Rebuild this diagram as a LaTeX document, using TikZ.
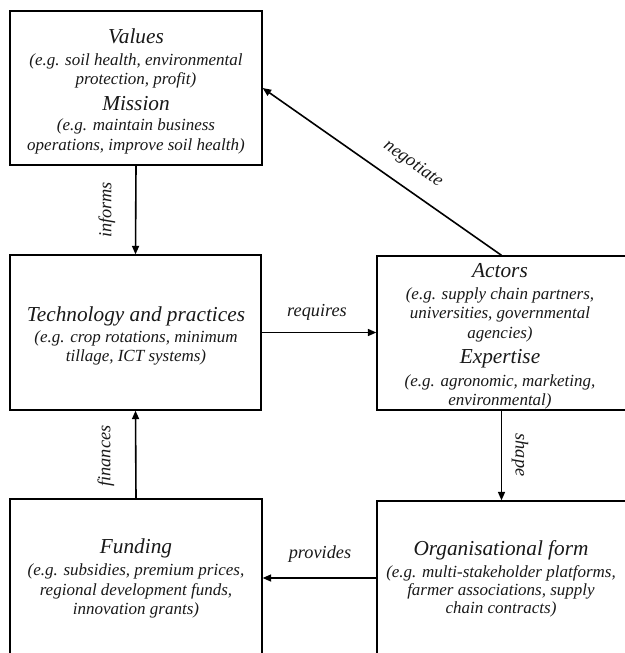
\documentclass[tikz,border=0pt]{standalone}
\usepackage{fontspec}
\setmainfont{Liberation Serif}
\usetikzlibrary{arrows.meta}
\begin{document}
\begin{tikzpicture}[x=1pt,y=-1pt,
  box/.style={draw=black, line width=1.3pt, inner sep=0pt, rectangle},
  ttl/.style={anchor=base, inner sep=0pt, font=\fontsize{21.3}{24}\selectfont\itshape, text=black!90},
  bod/.style={anchor=base, inner sep=0pt, font=\fontsize{17}{20}\selectfont\itshape, text=black!90},
  lbl/.style={inner sep=0pt, font=\fontsize{18.3}{21}\selectfont\itshape, text=black!90},
  arr/.style={line width=1.6pt, -{Triangle[length=8.5pt,width=7pt]}}]
\useasboundingbox (0,0) rectangle (624,653);
\fill[white] (0,0) rectangle (624,653);
% boxes
\node[box, minimum width=252pt, minimum height=154pt] (values) at (136,88) {};
\node[box, minimum width=251pt, minimum height=155pt] (tech) at (135.5,332.5) {};
\node[box, minimum width=249pt, minimum height=154pt] (actors) at (501.5,333) {};
\node[box, minimum width=252pt, minimum height=156pt] (funding) at (136,577) {};
\node[box, minimum width=249pt, minimum height=154pt] (org) at (501.5,578) {};
% values text
\node[ttl] (v1) at (136,43) {Values};
\node[bod] (v2) at (136,65) {(e.g. soil health, environmental};
\node[bod] (v3) at (136,84) {protection, profit)};
\node[ttl] (v4) at (136,110) {Mission};
\node[bod] (v5) at (136,130) {(e.g. maintain business};
\node[bod] (v6) at (136,150) {operations, improve soil health)};
% tech text
\node[ttl] (t1) at (136,321) {Technology and practices};
\node[bod] (t2) at (136,342) {(e.g. crop rotations, minimum};
\node[bod] (t3) at (136,361) {tillage, ICT systems)};
% actors text
\node[ttl] (a1) at (500,277) {Actors};
\node[bod] (a2) at (500,299) {(e.g. supply chain partners,};
\node[bod] (a3) at (500,318) {universities, governmental};
\node[bod] (a4) at (500,338) {agencies)};
\node[ttl] (a5) at (500,363) {Expertise};
\node[bod] (a6) at (500,386) {(e.g. agronomic, marketing,};
\node[bod] (a7) at (500,405) {environmental)};
% funding text
\node[ttl] (f1) at (136,553) {Funding};
\node[bod] (f2) at (136,575) {(e.g. subsidies, premium prices,};
\node[bod] (f3) at (136,595) {regional development funds,};
\node[bod] (f4) at (136,614) {innovation grants)};
% org text
\node[ttl] (o1) at (501,555) {Organisational form};
\node[bod] (o2) at (501,577) {(e.g. multi-stakeholder platforms,};
\node[bod] (o3) at (501,595) {farmer associations, supply};
\node[bod] (o4) at (501,613) {chain contracts)};
% connectors
\draw[arr] (values.south) -- (tech.north);
\draw[arr] (tech.east) -- (tech.east -| actors.west);
\draw[arr] (actors.north) -- (values.east);
\draw[arr] (actors.south) -- (org.north);
\draw[arr] (org.west) -- (org.west -| funding.east);
\draw[arr] (funding.north) -- (tech.south);
% labels
\node[lbl, rotate=90] (linf) at (107,210) {informs};
\node[lbl, anchor=base] (lreq) at (317,316) {requires};
\node[lbl, rotate=-35] (lneg) at (413,164) {negotiate};
\node[lbl, rotate=-90] (lsha) at (520,455) {shape};
\node[lbl, anchor=base] (lpro) at (320,558) {provides};
\node[lbl, rotate=90] (lfin) at (106,456) {finances};
\end{tikzpicture}
\end{document}
